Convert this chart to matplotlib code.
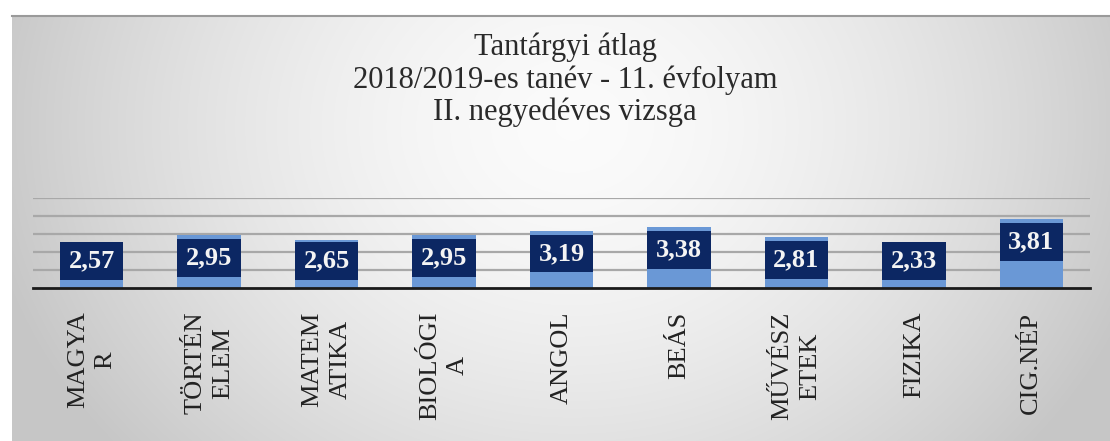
import numpy as np
import matplotlib
matplotlib.use("Agg")
import matplotlib.pyplot as plt
from matplotlib.lines import Line2D

# ---- data ----
categories = ["MAGYA\nR", "TÖRTÉN\nELEM", "MATEM\nATIKA", "BIOLÓGI\nA", "ANGOL",
              "BEÁS", "MŰVÉSZ\nETEK", "FIZIKA", "CIG.NÉP"]
values = [2.57, 2.95, 2.65, 2.95, 3.19, 3.38, 2.81, 2.33, 3.81]
value_labels = ["2,57", "2,95", "2,65", "2,95", "3,19", "3,38", "2,81", "2,33", "3,81"]
title_text = "Tantárgyi átlag\n2018/2019-es tanév - 11. évfolyam\nII. negyedéves vizsga"

W, H = 1110, 441
fig = plt.figure(figsize=(W / 100, H / 100), dpi=100)
fig.patch.set_facecolor("white")

# ---- background radial gradient of the chart area ----
bx0, by0 = 12, 16  # left / top of chart area in pixels
bg = fig.add_axes([bx0 / W, 0, 1 - bx0 / W, (H - by0) / H])
bw, bh = W - bx0, H - by0
xx, yy = np.meshgrid(np.arange(bw), np.arange(bh))
d = np.sqrt(((xx - 560) / 620.0) ** 2 + ((yy - 110) / 520.0) ** 2)
g = np.clip(0.985 - 0.22 * d ** 1.6, 0.78, 1.0)
bg.imshow(np.dstack([g, g, g]), aspect="auto", extent=[0, 1, 0, 1], interpolation="bilinear")
bg.set_axis_off()
fig.add_artist(Line2D([bx0 / W, 1], [(H - by0) / H] * 2, transform=fig.transFigure,
                      color="#9a9a9a", lw=1.5))

# ---- main axes ----
left_px, right_px, base_px, top_px = 33, 1090, 288, 198
ax = fig.add_axes([left_px / W, (H - base_px) / H, (right_px - left_px) / W, (base_px - top_px) / H])
ax.set_facecolor("none")
x = np.arange(len(categories))
ax.set_xlim(-0.5, len(categories) - 0.5)
ax.set_ylim(0, 5)

for gy in range(1, 6):
    ax.axhline(gy, color="#a8a8a8", lw=1.6, zorder=1)

bw_frac = 0.54
ax.bar(x, values, width=bw_frac, color="#6a98d6", zorder=2)

box_h = 2.1
for xi, v, lab in zip(x, values, value_labels):
    c = max(v - 1.27, 1.5)
    ax.bar(xi, box_h, bottom=c - box_h / 2, width=bw_frac, color="#0c2763", zorder=3)
    ax.text(xi, c, lab, ha="center", va="center", color="#f4f4f4", fontsize=19,
            fontweight="bold", family="Liberation Serif", zorder=4)

for s in ["left", "right", "top"]:
    ax.spines[s].set_visible(False)
ax.spines["bottom"].set_color("#1a1a1a")
ax.spines["bottom"].set_linewidth(2)
ax.spines["bottom"].set_zorder(5)
ax.set_yticks([])
ax.set_xticks(x)
ax.set_xticklabels(categories, rotation=90, fontsize=19, family="Liberation Serif",
                   color="#222222", ha="center", va="top", multialignment="center",
                   linespacing=1.35)
ax.tick_params(axis="x", length=0, pad=17)

fig.text(565 / W, 1 - 33 / H, title_text, ha="center", va="top", fontsize=22,
         family="Liberation Serif", color="#2a2a2a", linespacing=1.13)

fig.savefig("out.png", dpi=100)
